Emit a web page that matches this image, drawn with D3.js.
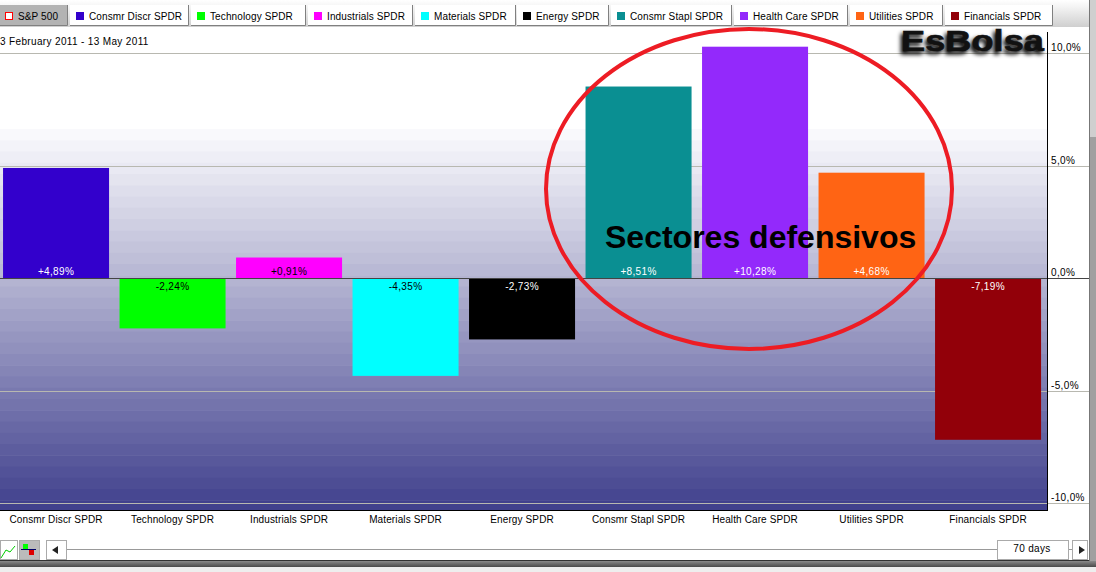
<!DOCTYPE html>
<html><head><meta charset="utf-8">
<script src="https://cdn.jsdelivr.net/npm/d3@7"></script>
<style>html,body{margin:0;padding:0;background:#fff;overflow:hidden}svg{display:block}text{font-family:"Liberation Sans",sans-serif;font-size:10px;letter-spacing:.35px;fill:#000}.t{letter-spacing:.12px}</style>
</head><body><svg id="c" width="1096" height="572"></svg>
<script>
const categories=["Consmr Discr SPDR","Technology SPDR","Industrials SPDR","Materials SPDR","Energy SPDR","Consmr Stapl SPDR","Health Care SPDR","Utilities SPDR","Financials SPDR"];
const values=[4.89,-2.24,0.91,-4.35,-2.73,8.51,10.28,4.68,-7.19];
const labels=["+4,89%","-2,24%","+0,91%","-4,35%","-2,73%","+8,51%","+10,28%","+4,68%","-7,19%"];
const colors=["#3300cc","#00ff00","#ff00ff","#00ffff","#000000","#0a8f92","#9329fb","#ff6414","#920009"];
const labelColors=["#fff","#000","#000","#000","#fff","#fff","#fff","#fff","#fff"];
const tabNames=["S&P 500",...categories];
const tabColors=["#fff",...colors];
const tabLeft=[0,70,191,308,415,517,611,734,850,945];
const tabRight=[67,188,305,412,515,608,731,847,942,1052];
const yTicks=[10,5,0,-5,-10];
const yTickLabels=["10,0%","5,0%","0,0%","-5,0%","-10,0%"];
const dateRange="3 February 2011 - 13 May 2011";
const svg=d3.select("#c");
const y=d3.scaleLinear().domain([10,-10]).range([53,503]);
const x=d3.scaleBand().domain(categories).range([-2.2,1046.3]).paddingInner(0.09).paddingOuter(0.045);
const defs=svg.append("defs");
const tg=defs.append("linearGradient").attr("id","top").attr("x2",0).attr("y2",1);
tg.append("stop").attr("offset",0).attr("stop-color","#ffffff");tg.append("stop").attr("offset",.25).attr("stop-color","#f4f4f4");tg.append("stop").attr("offset",1).attr("stop-color","#cfcfcf");
svg.append("rect").attr("width",1096).attr("height",27).attr("fill","url(#top)");
// background bands
const bgStops=[[129,"#fbfbfd"],[170,"#e8e8f2"],[278,"#b5b5d2"],[391,"#7a7ab0"],[510,"#3f3f8c"]];
const col=d3.scaleLinear().domain(bgStops.map(d=>d[0])).range(bgStops.map(d=>d[1]));
const bandEdges=d3.range(129,510,11.25);
svg.append("rect").attr("y",27).attr("width",1047).attr("height",102).attr("fill","#fff");
svg.append("g").selectAll("rect").data(bandEdges).join("rect").attr("x",0).attr("width",1047).attr("y",d=>d).attr("height",d=>Math.min(11.75,510-d)).attr("fill",d=>col(d+5));
svg.append("rect").attr("x",1048).attr("y",27).attr("width",41).attr("height",484).attr("fill","#fff");
// gridlines
svg.append("g").selectAll("line").data(yTicks.filter(d=>d!==0)).join("line").attr("x1",0).attr("x2",1089).attr("y1",d=>Math.round(y(d))+.5).attr("y2",d=>Math.round(y(d))+.5).attr("stroke","#b8b8b0");
// bars
svg.append("g").selectAll("rect").data(values).join("rect").attr("x",(d,i)=>x(categories[i])).attr("width",x.bandwidth()).attr("y",d=>d>0?y(d):y(0)).attr("height",d=>Math.abs(y(d)-y(0))).attr("fill",(d,i)=>colors[i]);
svg.append("line").attr("x1",0).attr("x2",1089).attr("y1",278.5).attr("y2",278.5).attr("stroke","#444");
svg.append("g").selectAll("text").data(labels).join("text").attr("x",(d,i)=>x(categories[i])+x.bandwidth()/2).attr("y",(d,i)=>values[i]>0?y(0)-3:y(0)+12).attr("text-anchor","middle").style("fill",(d,i)=>labelColors[i]).text(d=>d);
// frame
svg.append("line").attr("x1",0).attr("x2",1047).attr("y1",510.5).attr("y2",510.5).attr("stroke","#000");
svg.append("line").attr("x1",1047.5).attr("x2",1047.5).attr("y1",32).attr("y2",511).attr("stroke","#000");
// y labels
svg.append("g").selectAll("text").data(yTicks).join("text").attr("x",1051).attr("y",d=>y(d)-2).text((d,i)=>yTickLabels[i]);
// x labels
svg.append("g").selectAll("text").data(categories).join("text").attr("class","t").attr("x",d=>x(d)+x.bandwidth()/2).attr("y",523).attr("text-anchor","middle").text(d=>d);
// date
svg.append("text").attr("x",0).attr("y",45).text(dateRange);
// tabs
const tabs=svg.append("g").selectAll("g").data(tabNames).join("g");
tabs.append("rect").attr("x",(d,i)=>tabLeft[i]).attr("y",5).attr("width",(d,i)=>tabRight[i]-tabLeft[i]).attr("height",20).attr("fill",(d,i)=>i?"#fff":"#b3b3b3");
tabs.append("path").attr("d",(d,i)=>`M${tabLeft[i]} 25.5H${tabRight[i]}.5V5`).attr("fill","none").attr("stroke","#808080");
tabs.append("rect").attr("x",(d,i)=>i?tabLeft[i]+6:5.5).attr("y",(d,i)=>i?12:12.5).attr("width",(d,i)=>i?8:7).attr("height",(d,i)=>i?8:7).attr("fill",(d,i)=>tabColors[i]).attr("stroke",(d,i)=>i?"none":"#f00");
tabs.append("text").attr("class","t").attr("x",(d,i)=>i?tabLeft[i]+19:18).attr("y",20).text(d=>d);
// logo
const f=defs.append("filter").attr("id","blur").attr("x","-10%").attr("y","-40%").attr("width","120%").attr("height","180%");f.append("feGaussianBlur").attr("stdDeviation",2.2);
const logo=(g,dx,dy)=>g.append("text").attr("x",901+dx).attr("y",51+dy).attr("textLength",143).attr("lengthAdjust","spacingAndGlyphs").style("font-size","30px").style("font-weight","bold").style("letter-spacing","0").text("EsBolsa");
logo(svg,-2,3).attr("filter","url(#blur)").style("stroke","#000").style("stroke-width",1);
logo(svg,0,0).style("fill","#111").style("stroke","#111").style("stroke-width",.6);
// annotations
svg.append("ellipse").attr("cx",749).attr("cy",189).attr("rx",203).attr("ry",160).attr("fill","none").attr("stroke","#ed1c24").attr("stroke-width",4);
svg.append("text").attr("x",605).attr("y",248).style("font-size","32px").style("font-weight","bold").style("letter-spacing","0").text("Sectores defensivos");
// bottom toolbar
svg.append("line").attr("x1",67).attr("x2",1072).attr("y1",549.5).attr("y2",549.5).attr("stroke","#999");
const btnLeft=[0,19,46,997,1072];const btnRight=[17,39,66,1068,1087];const btnFill=["#fff","#bbb","#fff","#fff","#fff"];
svg.append("g").selectAll("rect").data(btnLeft).join("rect").attr("x",d=>d+.5).attr("y",540.5).attr("width",(d,i)=>btnRight[i]-d).attr("height",19).attr("fill",(d,i)=>btnFill[i]).attr("stroke","#aaa");
svg.append("text").attr("x",1032).attr("y",552).attr("text-anchor","middle").text("70 days");
svg.append("path").attr("d","M52 550l6-4v8zM1085 550l-6-4v8z").attr("fill","#222");
svg.append("rect").attr("x",23).attr("y",544).attr("width",5).attr("height",5).attr("fill","#0f0");
svg.append("rect").attr("x",29).attr("y",550).attr("width",5).attr("height",5).attr("fill","#d00");
svg.append("line").attr("x1",21).attr("x2",36).attr("y1",549.5).attr("y2",549.5).attr("stroke","#006");
svg.append("path").attr("d","M1 558l5-8 4 2 5-6").attr("fill","none").attr("stroke","#0c0");
// window edges
const sg=defs.append("linearGradient").attr("id","shadow").attr("x2",0).attr("y2",1);
sg.append("stop").attr("offset",0).attr("stop-color","#8a8a8a");sg.append("stop").attr("offset",1).attr("stop-color","#4a4a4a");
svg.append("rect").attr("x",0).attr("y",560).attr("width",1096).attr("height",1).attr("fill","#333");
svg.append("rect").attr("x",0).attr("y",561).attr("width",1096).attr("height",6).attr("fill","url(#shadow)");
svg.append("rect").attr("x",0).attr("y",567).attr("width",1096).attr("height",5).attr("fill","#eeeeee");
svg.append("rect").attr("x",1089).attr("y",0).attr("width",7).attr("height",137).attr("fill","#cfcfcf");
svg.append("rect").attr("x",1089).attr("y",137).attr("width",7).attr("height",424).attr("fill","#a0a0a0");
svg.append("line").attr("x1",1089.5).attr("x2",1089.5).attr("y1",0).attr("y2",561).attr("stroke","#777");
</script></body></html>
